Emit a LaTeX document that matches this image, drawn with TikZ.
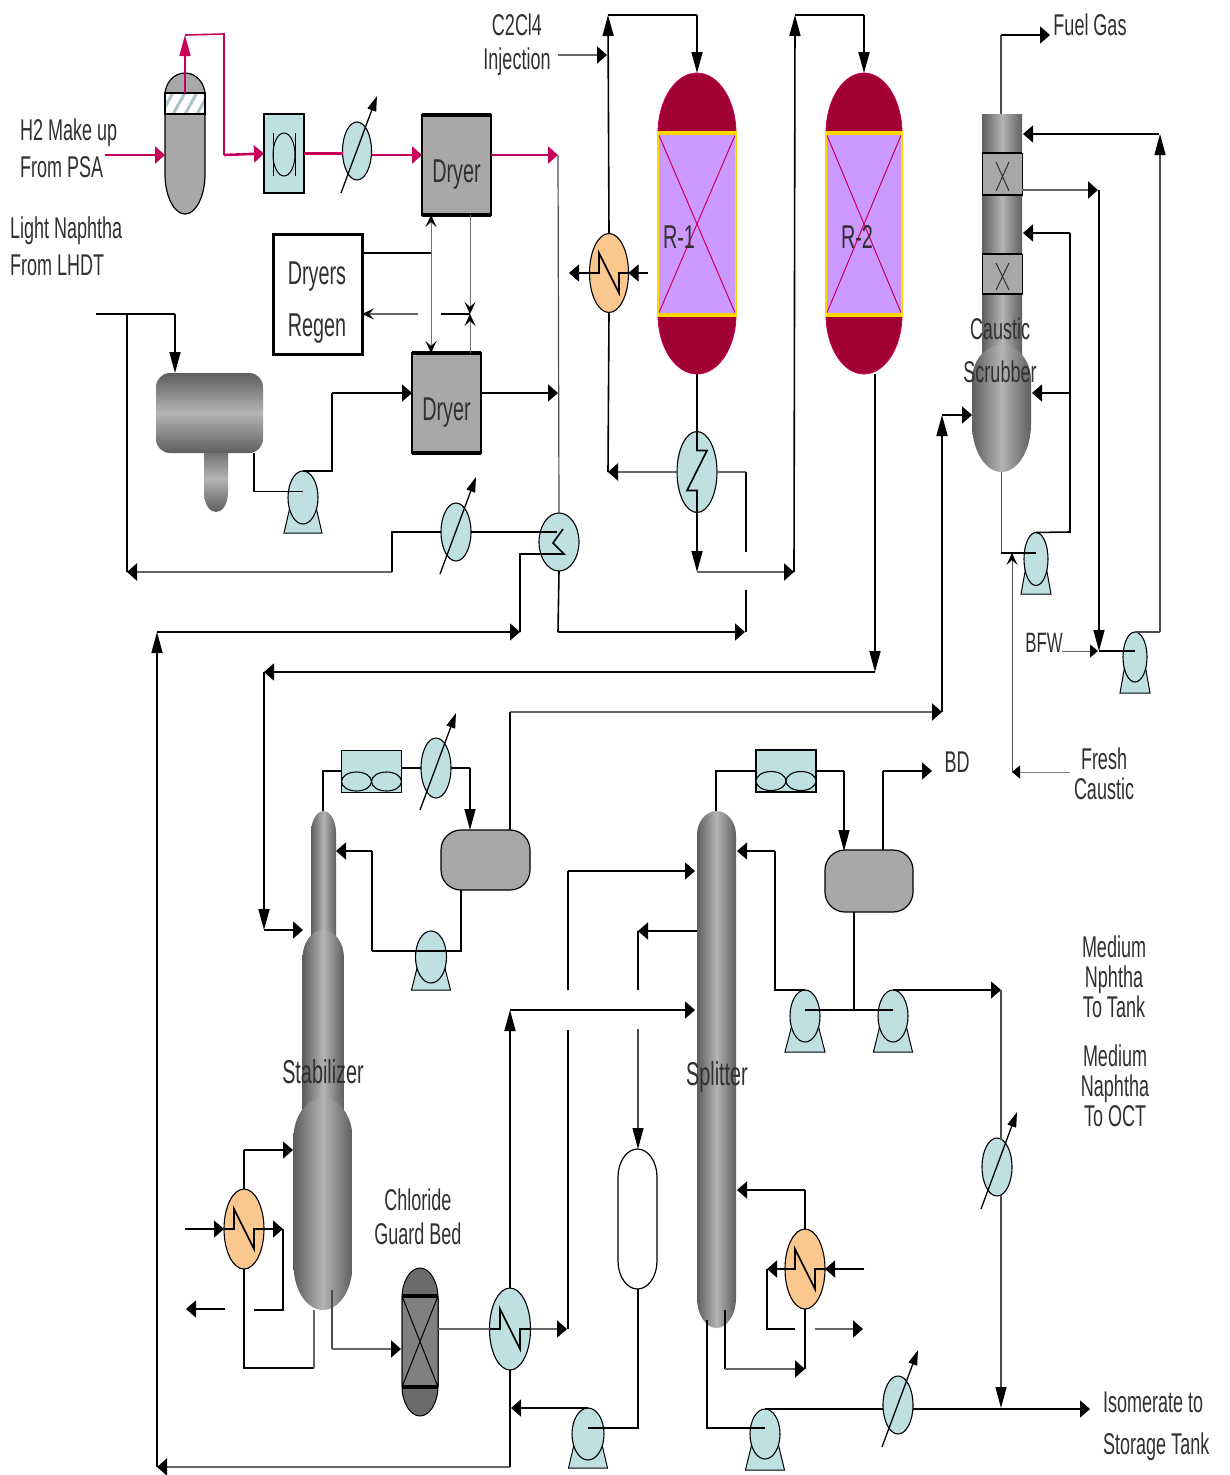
\documentclass[tikz,border=0pt]{standalone}
\usepackage{fontspec}
\setmainfont{Liberation Sans}
\usetikzlibrary{arrows.meta,calc,shapes.geometric}
\definecolor{cb}{HTML}{BFE0E3}
\definecolor{org}{HTML}{FAC78F}
\definecolor{gr}{HTML}{A8A8A8}
\definecolor{pk}{HTML}{C8005A}
\definecolor{crim}{HTML}{A00032}
\definecolor{vio}{HTML}{CC99FF}
\definecolor{yel}{HTML}{FFD800}
\definecolor{txt}{HTML}{303030}
\definecolor{cd}{HTML}{5E5E5E}
\definecolor{cl}{HTML}{B4B4B4}
\tikzset{
 ln/.style={line width=1.6pt,draw=black,line join=miter},
 gl/.style={line width=2.2pt,draw=black!60},
 tl/.style={line width=.9pt,draw=black!55},
 pl/.style={line width=2.6pt,draw=pk},
 pv/.style={line width=1.6pt,draw=pk},
 ah/.style={-{Triangle[length=10pt,width=17pt,color=black]}},
 pah/.style={-{Triangle[length=10pt,width=17pt]}},
 av/.style={-{Triangle[length=21pt,width=11pt,color=black]}},
 as/.style={-{Triangle[length=8pt,width=13pt,color=black]}},
 asv/.style={-{Stealth[length=12pt,width=11pt,inset=5pt,color=black]}},
 lab/.style={inner sep=0pt,text=txt},
 col/.style={left color=cd,right color=cd,middle color=cl},
 vesl/.style={draw=black,line width=1.2pt,fill=gr},
}
% vessel outline with elliptical heads
\newcommand\vessel[7][]{%
 \pgfmathsetmacro\vm{(#2+#3)/2}\pgfmathsetmacro\vw{(#3-#2)/2*.55}%
 \pgfmathsetmacro\vta{#4+#6}\pgfmathsetmacro\vtb{#4+.45*#6}%
 \pgfmathsetmacro\vba{#5-#7}\pgfmathsetmacro\vbb{#5-.45*#7}%
 \pgfmathsetmacro\vml{\vm-\vw}\pgfmathsetmacro\vmr{\vm+\vw}%
 \path[#1] (#2,\vta) .. controls (#2,\vtb) and (\vml,#4) .. (\vm,#4)
   .. controls (\vmr,#4) and (#3,\vtb) .. (#3,\vta) -- (#3,\vba)
   .. controls (#3,\vbb) and (\vmr,#5) .. (\vm,#5)
   .. controls (\vml,#5) and (#2,\vbb) .. (#2,\vba) -- cycle;}
\newcommand\hx[6]{\node[ellipse,draw=black,line width=1.1pt,fill=#1,minimum width=#5,minimum height=#6,inner sep=0pt,outer sep=0pt] (#2) at (#3,#4) {};}
\newcommand\trim[1]{\draw[line width=1.3pt,-{Triangle[length=15pt,width=9pt]}] ($(#1.center)+(-16,42)$) -- ($(#1.center)+(20,-55)$);}
\newcommand\zig[1]{\draw[ln] (#1.west) -- ($(#1.center)+(-10,0)$) -- ($(#1.center)+(-10,-20)$) -- ($(#1.center)+(10,20)$) -- ($(#1.center)+(10,0)$) -- (#1.east);}
\newcommand\pump[7]{%
 \pgfmathsetmacro\pa{#2-#6/2}\pgfmathsetmacro\pb{#2+#6/2}\pgfmathsetmacro\pc{#2+#4*.36}\pgfmathsetmacro\pd{#2-#4*.36}%
 \draw[fill=cb,line width=1pt] (\pa,#7) -- (\pb,#7) -- (\pc,#3) -- (\pd,#3) -- cycle;
 \hx{cb}{#1}{#2}{#3}{#4}{#5}
 \coordinate (#1c) at ($(#1.center)+(0,-6)$);}
\newcommand\cooler[3]{\node[rectangle,draw=black,line width=1.2pt,fill=cb,minimum width=60,minimum height=42,inner sep=0pt,outer sep=0pt] (#1) at (#2,#3) {};
 \draw[fill=cb,line width=1.1pt] ($(#1.center)+(-15,10)$) ellipse [x radius=15,y radius=9.5];
 \draw[fill=cb,line width=1.1pt] ($(#1.center)+(15,10)$) ellipse [x radius=15,y radius=9.5];}
\newcommand\dryer[5]{\node[rectangle,draw=black,line width=1.2pt,fill=gr,minimum width=69,minimum height=100,inner sep=0pt,outer sep=0pt,text=txt] (#1) at (#2,#3) {\raisebox{#4}[0pt][0pt]{\scalebox{.6}[1]{\fontsize{33}{36}\selectfont #5}}};
 \draw[line width=3.2pt] (#1.north west) -- (#1.north east);
 \draw[line width=3.2pt] (#1.south west) -- (#1.south east);}
\newcommand\lc[3]{\scalebox{.6}[1]{\fontsize{#1}{#2}\selectfont\begin{tabular}{@{}c@{}}#3\end{tabular}}}
\newcommand\lL[3]{\scalebox{.6}[1]{\fontsize{#1}{#2}\selectfont\begin{tabular}{@{}l@{}}#3\end{tabular}}}
\newcommand\reactor[4]{%
 \vessel[fill=crim,draw=pk,line width=.8pt]{#2}{#3}{73}{190}{60}{0}
 \vessel[fill=crim,draw=pk,line width=.8pt]{#2}{#3}{260}{374}{0}{59}
 \pgfmathsetmacro\rmid{(#2+#3)/2}%
 \fill[vio] (#2,133) rectangle (#3,315);
 \draw[pk,line width=1pt] (#2,133) -- (#3,315) (#3,133) -- (#2,315);
 \draw[yel,line width=1.5pt] (#2,133) -- (#2,315) (#3,133) -- (#3,315);
 \draw[yel,line width=4pt] (#2-1,133) -- (#3+1,133) (#2-1,315) -- (#3+1,315);
 \coordinate (#1top) at (\rmid,73);
 \node[lab] (#1txt) at (#4,241) {\lc{33}{36}{\MakeUppercase{#1}}};}
\begin{document}
\begin{tikzpicture}[x=1pt,y=-1pt]
\path[use as bounding box,fill=white] (0,0) rectangle (1229,1475);
%% ---------- vessels ----------
% H2 knock-out drum
\vessel[vesl]{165}{205}{73}{214}{22}{40}
\fill[white] (165,93) rectangle (205,114);
\begin{scope}
 \clip (165,93) rectangle (205,114);
 \foreach \q in {160,172,184,196,208} \draw[cb!70!gray,line width=3pt] (\q,116) -- (\q+14,91);
\end{scope}
\draw[line width=1.2pt] (165,93) rectangle (205,114);
% compressor
\node[rectangle,draw=black,line width=1.1pt,fill=cb,minimum width=40,minimum height=79,inner sep=0pt,outer sep=0pt] (comp) at (284,153.5) {};
\draw[line width=1pt] (273,133) -- (273,176) (295,133) -- (295,176);
\draw[line width=1pt] (284,154.5) ellipse [x radius=11,y radius=21.5];
\hx{cb}{ex1}{357}{151}{29}{58}
\trim{ex1}
\dryer{dry1}{456.5}{165}{-17pt}{Dryer}
\dryer{dry2}{446.5}{403}{-17pt}{Dryer}
\node[rectangle,draw=black,line width=3pt,fill=white,minimum width=89,minimum height=120,inner sep=0pt,outer sep=0pt] (regen) at (317.5,294) {};
% naphtha feed drum
\shade[left color=cd,right color=cd,middle color=cl,shading angle=0] (204,445) -- (228,445) -- (228,492) .. controls (228,505) and (222,512) .. (216,512) .. controls (210,512) and (204,505) .. (204,492) -- cycle;
\shade[top color=cd,bottom color=cd,middle color=cl,rounded corners=14pt] (156,373) rectangle (263,453);
\coordinate (fdin) at (175,373);
\coordinate (fdout) at (254,453);
\pump{p1}{303}{497.5}{30}{53}{38}{533}
\hx{cb}{ex2}{456}{532}{30}{58}
\trim{ex2}
\hx{cb}{ex3}{559}{542}{40}{58}
% reactors
\reactor{r-1}{658}{736}{679}
\reactor{r-2}{826}{902}{857}
\hx{org}{hxo}{609}{273}{39}{79}
\zig{hxo}
\hx{cb}{hxb}{697}{472}{40}{81}
\draw[ln] (hxb.north) -- ++(0,19) -- ++(10,0) -- ++(-20,40) -- ++(10,0) -- (hxb.south);
% caustic scrubber
\shade[col] (982,114) rectangle (1022,385);
\vessel[col]{972}{1031}{345}{472}{35}{48}
\foreach \a/\b in {153/195,254/294}{
 \fill[gr] (982,\a) rectangle (1022,\b);
 \draw[line width=1pt] (982,\a) rectangle (1022,\b);
 \draw[line width=2.6pt] (982,\a) -- (1022,\a) (982,\b) -- (1022,\b);
 \draw[line width=1pt,txt] (996,\a+9) -- (1009,\b-4) (1009,\a+9) -- (996,\b-4);
}
\pump{p2}{1036}{559}{24}{53}{30}{594}
\pump{p3}{1135}{657}{24}{50}{30}{693}
% stabilizer
\vessel[col]{311}{336}{811}{960}{22}{0}
\vessel[col]{302.5}{344}{930}{1120}{28}{0}
\vessel[col]{293.5}{352.5}{1098}{1310}{40}{45}
\path[vesl,rounded corners=20pt] (441,830) rectangle (530,890);
\cooler{cool1}{371.5}{771.5}
\hx{cb}{ex4}{436}{768}{30}{60}
\trim{ex4}
\pump{p4}{431}{957}{31}{52}{39}{990}
\hx{org}{reb1}{244}{1229}{40}{80}
\zig{reb1}
% guard bed
\vessel[draw=black,line width=1pt,fill=black!58]{402}{438}{1268}{1416}{30}{30}
\fill[black!50] (402,1296) rectangle (438,1387);
\draw[line width=1pt] (402,1296) -- (438,1387) (438,1296) -- (402,1387) (402,1296) -- (402,1387) (438,1296) -- (438,1387);
\draw[line width=3.2pt] (402,1296) -- (438,1296) (402,1387) -- (438,1387);
\hx{cb}{ex5}{510}{1329}{41}{82}
\zig{ex5}
% surge drum
\vessel[draw=black,line width=1.2pt,fill=white]{618}{657}{1149}{1289}{28}{28}
\pump{p5}{588}{1434}{32}{52}{39}{1468}
% splitter
\vessel[col]{697}{736}{811}{1328}{24}{30}
\cooler{cool2}{786}{771}
\path[vesl,rounded corners=20pt] (825,850) rectangle (913,912);
\pump{p6}{805}{1016}{30}{52}{40}{1052}
\pump{p7}{893}{1016}{30}{52}{39}{1052}
\hx{org}{reb2}{805}{1269}{40}{80}
\zig{reb2}
\pump{p8}{765}{1434}{30}{50}{39}{1470}
\hx{cb}{ex6}{997}{1167}{30}{58}
\trim{ex6}
\hx{cb}{ex7}{898}{1405}{30}{58}
\trim{ex7}
%% ---------- named end points ----------
\coordinate (h2in) at (105,155);
\coordinate (kod) at (165,155);
\coordinate (kotop) at (185,93);
\coordinate (jx) at (558,155);
\coordinate (jd2) at (558,393);
\coordinate (rgA) at (431,253);
\coordinate (d1l) at (431,215);
\coordinate (d2l) at (431,353);
\coordinate (d1r) at (470,215);
\coordinate (d2r) at (470,353);
\coordinate (vj) at (470,314);
\coordinate (lnin) at (96,314);
\coordinate (lnj) at (127,314);
\coordinate (lnr) at (127,572);
\coordinate (c2in) at (558,55);
\coordinate (c2j) at (607,55);
\coordinate (j608) at (608,472);
\coordinate (top1) at (608,15);
\coordinate (top2) at (795,15);
\coordinate (j697) at (697,572);
\coordinate (j795) at (794,572);
\coordinate (j745) at (745,632);
\coordinate (j157) at (157,632);
\coordinate (j520) at (520,632);
\coordinate (bot157) at (157,1467);
\coordinate (j265) at (264,672);
\coordinate (j875) at (875,672);
\coordinate (j265b) at (264,930);
\coordinate (stfeed) at (303,930);
%% ---------- H2 section ----------
\draw[pl,pah] (h2in) -- (kod);
\draw[pv] (kotop) -- (185,60);
\draw[pv,-{Triangle[length=21pt,width=11pt]}] (185,60) -- (185,35);
\draw[pv] (185,35) -- (224,34) -- (224,155);
\draw[pl,pah] (224,155) -- (comp.west);
\draw[pl] (comp.east) -- (ex1.west |- comp.east);
\draw[pl,pah] (ex1.east |- jx) -- (dry1.west |- jx);
\draw[pl,pah] (dry1.east |- jx) -- (jx);
\draw[line width=1.2pt,draw=black!70] (jx) -- (ex3.north);
\draw[ln] (regen.east |- rgA) -- (rgA);
\draw[tl,asv] (rgA) -- (d1l);
\draw[tl,asv] (rgA) -- (d2l);
\draw[tl,asv] (d1r) -- (vj);
\draw[ln] (441,314) -- (vj);
\draw[tl,asv] (d2r) -- (vj);
\draw[gl,asv] (418,314) -- (regen.east |- vj);
%% ---------- light naphtha ----------
\draw[ln] (lnin) -- (lnj);
\draw[ln] (lnj) -- (175,314);
\draw[ln,av] (175,314) -- (fdin);
\draw[ln] (lnj) -- (lnr);
\draw[ln] (fdout) |- (p1c);
\draw[ln] (p1.north) -- (332,471) -- (332,393);
\draw[ln,ah] (332,393) -- (dry2.west |- jd2);
\draw[ln,ah] (dry2.east |- jd2) -- (jd2);
\draw[gl,ah] (392,572) -- (lnr);
\draw[ln] (392,572) -- (392,532) -- (ex2.west |- 392,532);
\draw[ln] (ex2.east |- 392,532) -- (557,532);
\draw[ln] (563,529) -- (553,543) -- (564,554) -- (520,554) -- (j520);
\draw[ln,ah] (j157) -- (j520);
\draw[ln,av] (bot157) -- (j157);
\draw[ln] (ex3.south) -- (558,632);
\draw[ln,ah] (558,632) -- (j745);
\draw[ln] (746,590) -- (746,632);
\draw[gl,ah] (ex5.south |- bot157) -- (bot157);
%% ---------- reactors ----------
\draw[gl,ah] (c2in) -- (c2j);
\draw[ln,av] (hxo.north) -- (top1);
\draw[ln] (top1) -- (697,15);
\draw[ln,av] (697,15) -- (r-1top);
\draw[ln] (hxo.south) -- (j608);
\draw[gl,ah] (hxb.west) -- (j608);
\draw[ln,ah] (hxo.west) -- (569,273);
\draw[ln,ah] (648,273) -- (hxo.east);
\draw[ln] (697,374) -- (hxb.north);
\draw[ln,av] (hxb.south) -- (j697);
\draw[gl,ah] (j697) -- (j795);
\draw[gl] (hxb.east) -- (746,472);
\draw[ln] (746,472) -- (746,552);
\draw[ln,av] (j795) -- (top2);
\draw[ln] (top2) -- (864,15);
\draw[ln,av] (864,15) -- (r-2top);
\draw[ln,av] (875,374) -- (j875);
\draw[ln,ah] (j875) -- (j265);
\draw[ln,av] (j265) -- (j265b);
\draw[ln,ah] (j265b) -- (stfeed);
%% ---------- caustic scrubber ----------
\draw[line width=1.1pt,draw=black!70] (1001,114) -- (1001,35);
\draw[ln,ah] (1001,35) -- (1050,35);
\draw[ln,ah] (1159,134) -- (1023,134);
\draw[line width=1.2pt,draw=black!70,av] (1160,632) -- (1160,134);
\draw[line width=1.2pt,draw=black!70] (p3.north) -- (1160,632);
\draw[gl,ah] (1022,190) -- (1098,190);
\draw[ln,av] (1099,190) -- (1099,651);
\draw[ln] (1099,651) -- (p3c);
\draw[line width=1pt,draw=black!60,as] (1062,651) -- (1098,651);
\draw[ln,ah] (1070,233) -- (1023,233);
\draw[ln] (1070,233) -- (1070,532) -- (p2.north);
\draw[ln,ah] (1070,393) -- (1032,393);
\draw[line width=1pt,draw=black!70] (1001,472) -- (1001,553);
\draw[ln] (1001,553) -- (p2c);
\draw[line width=1pt,draw=black!70,asv] (1012,772) -- (1012,553);
\draw[line width=1pt,draw=black!50,as] (1070,772) -- (1012,772);
\draw[ln,ah] (942,415) -- (972,415);
\draw[ln,av] (942,712) -- (942,415);
\draw[gl,ah] (510,712) -- (942,712);
\draw[ln] (510,830) -- (510,712);
%% ---------- stabilizer ----------
\draw[ln] (323,811) -- (323,771) -- (cool1.west |- 323,771);
\draw[ln] (cool1.east |- ex4.west) -- (ex4.west);
\draw[ln] (ex4.east) -- (470,768);
\draw[ln,av] (470,768) -- (470,830);
\draw[ln] (461,890) |- (p4c);
\draw[ln] (p4c) -- (372,951);
\draw[ln] (372,951) -- (372,851);
\draw[ln,ah] (372,851) -- (336,851);
\draw[ln] (reb1.north) -- (244,1150);
\draw[ln,ah] (244,1150) -- (293,1150);
\draw[ln,ah] (185,1229) -- (reb1.west);
\draw[ln,ah] (reb1.east) -- (283,1229);
\draw[ln] (283,1229) -- (283,1310) -- (254,1310);
\draw[ln,ah] (225,1309) -- (186,1309);
\draw[ln] (reb1.south) -- (244,1368) -- (314,1368);
\draw[line width=1.1pt,draw=black!60] (314,1368) -- (314,1310);
\draw[line width=1.1pt,draw=black!70] (332,1290) -- (332,1349);
\draw[gl,ah] (332,1349) -- (401,1349);
\draw[gl] (438,1329) -- (ex5.west);
\draw[gl,ah] (ex5.east) -- (567,1329);
\draw[ln] (568,1329) -- (568,1030);
\draw[ln] (568,990) -- (568,871);
\draw[ln,ah] (568,871) -- (695,871);
\draw[ln,av] (ex5.north) -- (510,1010);
\draw[ln,ah] (510,1010) -- (695,1010);
\draw[ln] (ex5.south) -- (510,1467);
\draw[ln,ah] (p5.north) -- (511,1408);
\draw[ln] (p5c) -| (638,1289);
\draw[line width=1.1pt,draw=black!70,av] (638,1029) -- (638,1149);
\draw[ln] (638,990) -- (638,931);
\draw[ln,ah] (697,931) -- (638,931);
%% ---------- splitter ----------
\draw[ln] (716,811) -- (716,771) -- (cool2.west |- 716,771);
\draw[ln] (cool2.east |- 716,771) -- (844,771);
\draw[ln,av] (844,771) -- (844,851);
\draw[ln] (883,850) -- (883,771);
\draw[ln,ah] (883,771) -- (932,771);
\draw[ln] (854,912) |- (p6c);
\draw[ln] (p6c) -- (p7c);
\draw[ln] (p6.north) -- (775,990) -- (775,851);
\draw[ln,ah] (775,851) -- (737,851);
\draw[ln,ah] (p7.north) -- (1001,990);
\draw[line width=1.1pt,draw=black!70] (1001,990) -- (1001,1140);
\draw[line width=1.1pt,draw=black!70,av] (1001,1195) -- (1001,1408);
\draw[ln] (p8.north) -- (ex7.west |- p8.north);
\draw[ln,ah] (ex7.east |- p8.north) -- (1090,1409);
\draw[ln] (707,1320) |- (p8c);
\draw[ln] (725,1310) -- (725,1369);
\draw[gl,ah] (725,1369) -- (805,1369);
\draw[ln] (reb2.south) -- (805,1369);
\draw[ln] (reb2.north) -- (805,1190);
\draw[ln,ah] (805,1190) -- (737,1190);
\draw[ln,ah] (864,1269) -- (reb2.east);
\draw[ln,ah] (reb2.west) -- (767,1269);
\draw[ln] (767,1269) -- (767,1329) -- (795,1329);
\draw[gl,ah] (815,1329) -- (863,1329);
%% ---------- labels ----------
\node[lab,anchor=west] (t1) at (20,151.5) {\lL{30}{37}{H2 Make up\\From PSA}};
\node[lab,anchor=west] (t2) at (10,250) {\lL{30}{37}{Light Naphtha\\From LHDT}};
\node[lab] (t3) at (517,46) {\lc{30}{34}{C2Cl4\\Injection}};
\node[lab] (t4) at (317,300) {\lc{33}{52}{Dryers\\Regen}};
\node[lab] (t5) at (1090,29) {\lc{30}{34}{Fuel Gas}};
\node[lab] (t6) at (1000,352) {\lc{30}{43}{Caustic\\Scrubber}};
\node[lab] (t7) at (1044,646) {\lc{28}{34}{BFW}};
\node[lab] (t8) at (957,766) {\lc{30}{34}{BD}};
\node[lab] (t9) at (1104,778) {\lc{30}{29}{Fresh\\Caustic}};
\node[lab] (t10) at (1114,981) {\lc{30}{29}{Medium\\Nphtha\\To Tank}};
\node[lab] (t11) at (1115,1090) {\lc{30}{30}{Medium\\Naphtha\\To OCT}};
\node[lab] (t12) at (323,1076) {\lc{33}{36}{Stabilizer}};
\node[lab] (t13) at (717,1078) {\lc{33}{36}{Splitter}};
\node[lab] (t14) at (418,1221) {\lc{30}{34}{Chloride\\Guard Bed}};
\node[lab,anchor=west] (t15) at (1103,1425.5) {\lL{30}{42}{Isomerate to\\Storage Tank}};
\end{tikzpicture}
\end{document}
